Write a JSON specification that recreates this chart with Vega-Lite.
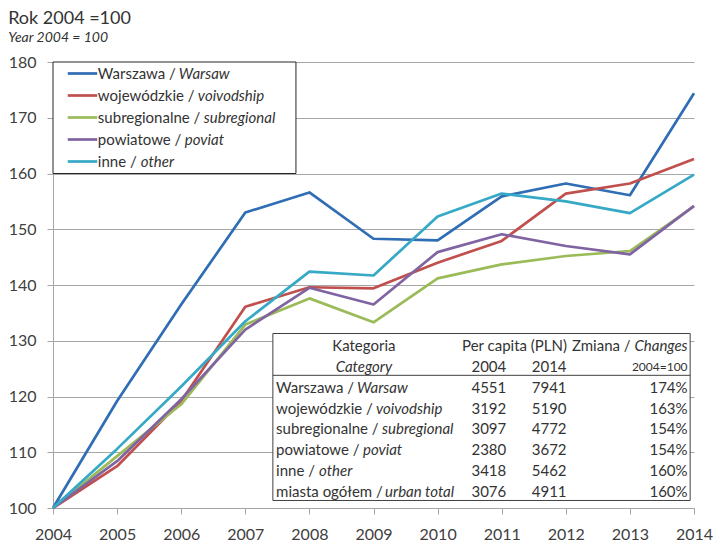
{
  "$schema": "https://vega.github.io/schema/vega-lite/v6.json",
  "width": 641,
  "height": 446,
  "autosize": {"type": "none"},
  "padding": {"left": 53, "top": 62, "right": 19, "bottom": 37},
  "background": "white",
  "title": {
    "text": "Rok 2004 =100",
    "subtitle": "Year 2004 = 100",
    "anchor": "start",
    "frame": "bounds",
    "font": "Lato",
    "fontSize": 18,
    "fontWeight": "normal",
    "color": "#333333",
    "subtitleFont": "Lato",
    "subtitleFontSize": 14,
    "subtitleFontStyle": "italic",
    "subtitleColor": "#333333",
    "subtitlePadding": 3,
    "offset": 9
  },
  "config": {
    "font": "Lato",
    "view": {"stroke": null},
    "scale": {"zero": false},
    "axis": {"labelFont": "Lato", "labelColor": "#404040", "labelFontSize": 16}
  },
  "datasets": {
    "series": [
      {"year": 2004, "series": "Warszawa", "value": 100},
      {"year": 2005, "series": "Warszawa", "value": 119.2},
      {"year": 2006, "series": "Warszawa", "value": 136.5},
      {"year": 2007, "series": "Warszawa", "value": 153.0},
      {"year": 2008, "series": "Warszawa", "value": 156.6},
      {"year": 2009, "series": "Warszawa", "value": 148.3},
      {"year": 2010, "series": "Warszawa", "value": 148.0},
      {"year": 2011, "series": "Warszawa", "value": 155.9},
      {"year": 2012, "series": "Warszawa", "value": 158.2},
      {"year": 2013, "series": "Warszawa", "value": 156.1},
      {"year": 2014, "series": "Warszawa", "value": 174.4},
      {"year": 2004, "series": "wojewódzkie", "value": 100},
      {"year": 2005, "series": "wojewódzkie", "value": 107.5},
      {"year": 2006, "series": "wojewódzkie", "value": 119.2},
      {"year": 2007, "series": "wojewódzkie", "value": 136.1},
      {"year": 2008, "series": "wojewódzkie", "value": 139.6},
      {"year": 2009, "series": "wojewódzkie", "value": 139.4},
      {"year": 2010, "series": "wojewódzkie", "value": 144.0},
      {"year": 2011, "series": "wojewódzkie", "value": 147.9},
      {"year": 2012, "series": "wojewódzkie", "value": 156.4},
      {"year": 2013, "series": "wojewódzkie", "value": 158.2},
      {"year": 2014, "series": "wojewódzkie", "value": 162.6},
      {"year": 2004, "series": "subregionalne", "value": 100},
      {"year": 2005, "series": "subregionalne", "value": 109.3},
      {"year": 2006, "series": "subregionalne", "value": 118.6},
      {"year": 2007, "series": "subregionalne", "value": 132.9},
      {"year": 2008, "series": "subregionalne", "value": 137.6},
      {"year": 2009, "series": "subregionalne", "value": 133.3},
      {"year": 2010, "series": "subregionalne", "value": 141.2},
      {"year": 2011, "series": "subregionalne", "value": 143.7},
      {"year": 2012, "series": "subregionalne", "value": 145.2},
      {"year": 2013, "series": "subregionalne", "value": 146.1},
      {"year": 2014, "series": "subregionalne", "value": 154.1},
      {"year": 2004, "series": "powiatowe", "value": 100},
      {"year": 2005, "series": "powiatowe", "value": 108.4},
      {"year": 2006, "series": "powiatowe", "value": 119.5},
      {"year": 2007, "series": "powiatowe", "value": 132.0},
      {"year": 2008, "series": "powiatowe", "value": 139.5},
      {"year": 2009, "series": "powiatowe", "value": 136.5},
      {"year": 2010, "series": "powiatowe", "value": 145.9},
      {"year": 2011, "series": "powiatowe", "value": 149.1},
      {"year": 2012, "series": "powiatowe", "value": 147.0},
      {"year": 2013, "series": "powiatowe", "value": 145.5},
      {"year": 2014, "series": "powiatowe", "value": 154.2},
      {"year": 2004, "series": "inne", "value": 100},
      {"year": 2005, "series": "inne", "value": 110.6},
      {"year": 2006, "series": "inne", "value": 121.8},
      {"year": 2007, "series": "inne", "value": 133.5},
      {"year": 2008, "series": "inne", "value": 142.4},
      {"year": 2009, "series": "inne", "value": 141.7},
      {"year": 2010, "series": "inne", "value": 152.3},
      {"year": 2011, "series": "inne", "value": 156.4},
      {"year": 2012, "series": "inne", "value": 155.0},
      {"year": 2013, "series": "inne", "value": 152.9},
      {"year": 2014, "series": "inne", "value": 159.8}
    ],
    "legendItems": [
      {"series": "Warszawa", "pl": "Warszawa /", "en": "Warsaw"},
      {"series": "wojewódzkie", "pl": "wojewódzkie /", "en": "voivodship"},
      {"series": "subregionalne", "pl": "subregionalne /", "en": "subregional"},
      {"series": "powiatowe", "pl": "powiatowe /", "en": "poviat"},
      {"series": "inne", "pl": "inne /", "en": "other"}
    ],
    "table": [
      {"pl": "Warszawa /", "en": "Warsaw", "v2004": 4551, "v2014": 7941, "chg": 1.74},
      {"pl": "wojewódzkie /", "en": "voivodship", "v2004": 3192, "v2014": 5190, "chg": 1.63},
      {"pl": "subregionalne /", "en": "subregional", "v2004": 3097, "v2014": 4772, "chg": 1.54},
      {"pl": "powiatowe /", "en": "poviat", "v2004": 2380, "v2014": 3672, "chg": 1.54},
      {"pl": "inne /", "en": "other", "v2004": 3418, "v2014": 5462, "chg": 1.60},
      {"pl": "miasta ogółem /", "en": "urban total", "v2004": 3076, "v2014": 4911, "chg": 1.60}
    ]
  },
  "layer": [
    {
      "data": {"name": "series"},
      "layer": [
        {
          "mark": {"type": "line", "strokeWidth": 2.7, "strokeJoin": "round"},
          "encoding": {
            "x": {
              "field": "year", "type": "quantitative",
              "scale": {"domain": [2004, 2014], "nice": false, "zero": false},
              "axis": {"values": [2004, 2005, 2006, 2007, 2008, 2009, 2010, 2011, 2012, 2013, 2014], "format": "d", "title": null, "grid": false, "tickSize": 6, "tickColor": "#a6a6a6", "domainColor": "#a6a6a6", "labelPadding": 12, "labelFontSize": 16, "labelFlush": false}
            },
            "y": {
              "field": "value", "type": "quantitative",
              "scale": {"domain": [100, 180], "nice": false, "zero": false},
              "axis": {"values": [100, 110, 120, 130, 140, 150, 160, 170, 180], "title": null, "grid": true, "gridColor": "#a6a6a6", "tickSize": 6, "tickColor": "#a6a6a6", "domainColor": "#a6a6a6", "labelPadding": 11, "labelFontSize": 16}
            },
            "color": {
              "field": "series", "type": "nominal",
              "scale": {"domain": ["Warszawa", "wojewódzkie", "subregionalne", "powiatowe", "inne"], "range": ["#2f6db4", "#c0504d", "#9bbb59", "#8064a2", "#35a9c6"]},
              "legend": null
            }
          }
        },
        {
          "data": {"values": [{}]},
          "mark": {"type": "rect", "fill": "white", "stroke": "#262626", "strokeWidth": 1},
          "encoding": {"x": {"datum": 2004}, "x2": {"datum": 2007.79}, "y": {"datum": 180}, "y2": {"datum": 160}}
        },
        {
          "data": {"values": [{}]},
          "mark": {"type": "rect", "fill": "white", "stroke": "#404040", "strokeWidth": 1},
          "encoding": {"x": {"datum": 2007.43}, "x2": {"datum": 2013.94}, "y": {"datum": 131.3}, "y2": {"datum": 101.35}}
        },
        {
          "data": {"values": [{}]},
          "mark": {"type": "rule", "stroke": "#404040", "strokeWidth": 1},
          "encoding": {"x": {"datum": 2007.43}, "x2": {"datum": 2013.94}, "y": {"datum": 123.8}}
        }
      ]
    },
    {
      "data": {"name": "table"},
      "layer": [
        {
          "data": {"values": [{}]},
          "mark": {"type": "text", "align": "center", "baseline": "middle", "fontSize": 15, "color": "#333333", "text": "Kategoria"},
          "encoding": {"x": {"datum": 2008.85}, "y": {"datum": "h1", "type": "nominal", "scale": {"type": "point", "domain": ["h1", "h2", "Warszawa /", "wojewódzkie /", "subregionalne /", "powiatowe /", "inne /", "miasta ogółem /"], "range": [284, 430], "padding": 0}, "axis": null}}
        },
        {
          "data": {"values": [{}]},
          "mark": {"type": "text", "align": "center", "baseline": "middle", "fontSize": 15, "color": "#333333", "text": "Per capita (PLN)"},
          "encoding": {"x": {"datum": 2011.20}, "y": {"datum": "h1", "type": "nominal", "scale": {"type": "point", "domain": ["h1", "h2", "Warszawa /", "wojewódzkie /", "subregionalne /", "powiatowe /", "inne /", "miasta ogółem /"], "range": [284, 430], "padding": 0}, "axis": null}}
        },
        {
          "data": {"values": [{}]},
          "mark": {"type": "text", "align": "right", "baseline": "middle", "fontSize": 15, "color": "#333333", "text": "Zmiana /", "dx": -57},
          "encoding": {"x": {"datum": 2013.9}, "y": {"datum": "h1", "type": "nominal", "scale": {"type": "point", "domain": ["h1", "h2", "Warszawa /", "wojewódzkie /", "subregionalne /", "powiatowe /", "inne /", "miasta ogółem /"], "range": [284, 430], "padding": 0}, "axis": null}}
        },
        {
          "data": {"values": [{}]},
          "mark": {"type": "text", "align": "right", "baseline": "middle", "fontSize": 15, "fontStyle": "italic", "color": "#333333", "text": "Changes"},
          "encoding": {"x": {"datum": 2013.9}, "y": {"datum": "h1", "type": "nominal", "scale": {"type": "point", "domain": ["h1", "h2", "Warszawa /", "wojewódzkie /", "subregionalne /", "powiatowe /", "inne /", "miasta ogółem /"], "range": [284, 430], "padding": 0}, "axis": null}}
        },
        {
          "data": {"values": [{}]},
          "mark": {"type": "text", "align": "center", "baseline": "middle", "fontSize": 15, "fontStyle": "italic", "color": "#333333", "text": "Category"},
          "encoding": {"x": {"datum": 2008.85}, "y": {"datum": "h2", "type": "nominal", "scale": {"type": "point", "domain": ["h1", "h2", "Warszawa /", "wojewódzkie /", "subregionalne /", "powiatowe /", "inne /", "miasta ogółem /"], "range": [284, 430], "padding": 0}, "axis": null}}
        },
        {
          "data": {"values": [{}]},
          "mark": {"type": "text", "align": "center", "baseline": "middle", "fontSize": 15, "color": "#333333", "text": "2004"},
          "encoding": {"x": {"datum": 2010.80}, "y": {"datum": "h2", "type": "nominal", "scale": {"type": "point", "domain": ["h1", "h2", "Warszawa /", "wojewódzkie /", "subregionalne /", "powiatowe /", "inne /", "miasta ogółem /"], "range": [284, 430], "padding": 0}, "axis": null}}
        },
        {
          "data": {"values": [{}]},
          "mark": {"type": "text", "align": "center", "baseline": "middle", "fontSize": 15, "color": "#333333", "text": "2014"},
          "encoding": {"x": {"datum": 2011.74}, "y": {"datum": "h2", "type": "nominal", "scale": {"type": "point", "domain": ["h1", "h2", "Warszawa /", "wojewódzkie /", "subregionalne /", "powiatowe /", "inne /", "miasta ogółem /"], "range": [284, 430], "padding": 0}, "axis": null}}
        },
        {
          "data": {"values": [{}]},
          "mark": {"type": "text", "align": "right", "baseline": "middle", "fontSize": 12, "color": "#333333", "text": "2004=100"},
          "encoding": {"x": {"datum": 2013.9}, "y": {"datum": "h2", "type": "nominal", "scale": {"type": "point", "domain": ["h1", "h2", "Warszawa /", "wojewódzkie /", "subregionalne /", "powiatowe /", "inne /", "miasta ogółem /"], "range": [284, 430], "padding": 0}, "axis": null}}
        },
        {
          "mark": {"type": "text", "align": "left", "baseline": "middle", "fontSize": 15, "color": "#333333"},
          "encoding": {"x": {"datum": 2007.48}, "y": {"field": "pl", "type": "nominal", "scale": {"type": "point", "domain": ["h1", "h2", "Warszawa /", "wojewódzkie /", "subregionalne /", "powiatowe /", "inne /", "miasta ogółem /"], "range": [284, 430], "padding": 0}, "axis": null}, "text": {"field": "pl"}}
        },
        {
          "transform": [{"filter": "datum.pl == 'Warszawa /'"}],
          "mark": {"type": "text", "align": "left", "baseline": "middle", "fontSize": 15, "fontStyle": "italic", "color": "#333333", "dx": 81},
          "encoding": {"x": {"datum": 2007.48}, "y": {"field": "pl", "type": "nominal", "scale": {"type": "point", "domain": ["h1", "h2", "Warszawa /", "wojewódzkie /", "subregionalne /", "powiatowe /", "inne /", "miasta ogółem /"], "range": [284, 430], "padding": 0}, "axis": null}, "text": {"field": "en"}}
        },
        {
          "transform": [{"filter": "datum.pl == 'wojewódzkie /'"}],
          "mark": {"type": "text", "align": "left", "baseline": "middle", "fontSize": 15, "fontStyle": "italic", "color": "#333333", "dx": 100},
          "encoding": {"x": {"datum": 2007.48}, "y": {"field": "pl", "type": "nominal", "scale": {"type": "point", "domain": ["h1", "h2", "Warszawa /", "wojewódzkie /", "subregionalne /", "powiatowe /", "inne /", "miasta ogółem /"], "range": [284, 430], "padding": 0}, "axis": null}, "text": {"field": "en"}}
        },
        {
          "transform": [{"filter": "datum.pl == 'subregionalne /'"}],
          "mark": {"type": "text", "align": "left", "baseline": "middle", "fontSize": 15, "fontStyle": "italic", "color": "#333333", "dx": 106},
          "encoding": {"x": {"datum": 2007.48}, "y": {"field": "pl", "type": "nominal", "scale": {"type": "point", "domain": ["h1", "h2", "Warszawa /", "wojewódzkie /", "subregionalne /", "powiatowe /", "inne /", "miasta ogółem /"], "range": [284, 430], "padding": 0}, "axis": null}, "text": {"field": "en"}}
        },
        {
          "transform": [{"filter": "datum.pl == 'powiatowe /'"}],
          "mark": {"type": "text", "align": "left", "baseline": "middle", "fontSize": 15, "fontStyle": "italic", "color": "#333333", "dx": 87},
          "encoding": {"x": {"datum": 2007.48}, "y": {"field": "pl", "type": "nominal", "scale": {"type": "point", "domain": ["h1", "h2", "Warszawa /", "wojewódzkie /", "subregionalne /", "powiatowe /", "inne /", "miasta ogółem /"], "range": [284, 430], "padding": 0}, "axis": null}, "text": {"field": "en"}}
        },
        {
          "transform": [{"filter": "datum.pl == 'inne /'"}],
          "mark": {"type": "text", "align": "left", "baseline": "middle", "fontSize": 15, "fontStyle": "italic", "color": "#333333", "dx": 43},
          "encoding": {"x": {"datum": 2007.48}, "y": {"field": "pl", "type": "nominal", "scale": {"type": "point", "domain": ["h1", "h2", "Warszawa /", "wojewódzkie /", "subregionalne /", "powiatowe /", "inne /", "miasta ogółem /"], "range": [284, 430], "padding": 0}, "axis": null}, "text": {"field": "en"}}
        },
        {
          "transform": [{"filter": "datum.pl == 'miasta ogółem /'"}],
          "mark": {"type": "text", "align": "left", "baseline": "middle", "fontSize": 15, "fontStyle": "italic", "color": "#333333", "dx": 109},
          "encoding": {"x": {"datum": 2007.48}, "y": {"field": "pl", "type": "nominal", "scale": {"type": "point", "domain": ["h1", "h2", "Warszawa /", "wojewódzkie /", "subregionalne /", "powiatowe /", "inne /", "miasta ogółem /"], "range": [284, 430], "padding": 0}, "axis": null}, "text": {"field": "en"}}
        },
        {
          "mark": {"type": "text", "align": "center", "baseline": "middle", "fontSize": 15, "color": "#333333"},
          "encoding": {"x": {"datum": 2010.80}, "y": {"field": "pl", "type": "nominal", "scale": {"type": "point", "domain": ["h1", "h2", "Warszawa /", "wojewódzkie /", "subregionalne /", "powiatowe /", "inne /", "miasta ogółem /"], "range": [284, 430], "padding": 0}, "axis": null}, "text": {"field": "v2004", "type": "quantitative", "format": "d"}}
        },
        {
          "mark": {"type": "text", "align": "center", "baseline": "middle", "fontSize": 15, "color": "#333333"},
          "encoding": {"x": {"datum": 2011.74}, "y": {"field": "pl", "type": "nominal", "scale": {"type": "point", "domain": ["h1", "h2", "Warszawa /", "wojewódzkie /", "subregionalne /", "powiatowe /", "inne /", "miasta ogółem /"], "range": [284, 430], "padding": 0}, "axis": null}, "text": {"field": "v2014", "type": "quantitative", "format": "d"}}
        },
        {
          "mark": {"type": "text", "align": "right", "baseline": "middle", "fontSize": 15, "color": "#333333"},
          "encoding": {"x": {"datum": 2013.9}, "y": {"field": "pl", "type": "nominal", "scale": {"type": "point", "domain": ["h1", "h2", "Warszawa /", "wojewódzkie /", "subregionalne /", "powiatowe /", "inne /", "miasta ogółem /"], "range": [284, 430], "padding": 0}, "axis": null}, "text": {"field": "chg", "type": "quantitative", "format": ".0%"}}
        }
      ]
    },
    {
      "data": {"name": "legendItems"},
      "layer": [
        {
          "mark": {"type": "rule", "strokeWidth": 2.7},
          "encoding": {
            "x": {"datum": 2004.23}, "x2": {"datum": 2004.69},
            "y": {"field": "series", "type": "nominal", "scale": {"type": "point", "domain": ["Warszawa", "wojewódzkie", "subregionalne", "powiatowe", "inne"], "range": [11.5, 99.5], "padding": 0}, "axis": null},
            "color": {"field": "series", "type": "nominal", "legend": null}
          }
        },
        {
          "mark": {"type": "text", "align": "left", "baseline": "middle", "fontSize": 15, "color": "#333333"},
          "encoding": {
            "x": {"datum": 2004.70},
            "y": {"field": "series", "type": "nominal", "scale": {"type": "point", "domain": ["Warszawa", "wojewódzkie", "subregionalne", "powiatowe", "inne"], "range": [11.5, 99.5], "padding": 0}, "axis": null},
            "text": {"field": "pl"}
          }
        },
        {
          "transform": [{"filter": "datum.series == 'Warszawa'"}],
          "mark": {"type": "text", "align": "left", "baseline": "middle", "fontSize": 15, "fontStyle": "italic", "color": "#333333", "dx": 81},
          "encoding": {"x": {"datum": 2004.70}, "y": {"field": "series", "type": "nominal", "scale": {"type": "point", "domain": ["Warszawa", "wojewódzkie", "subregionalne", "powiatowe", "inne"], "range": [11.5, 99.5], "padding": 0}, "axis": null}, "text": {"field": "en"}}
        },
        {
          "transform": [{"filter": "datum.series == 'wojewódzkie'"}],
          "mark": {"type": "text", "align": "left", "baseline": "middle", "fontSize": 15, "fontStyle": "italic", "color": "#333333", "dx": 100},
          "encoding": {"x": {"datum": 2004.70}, "y": {"field": "series", "type": "nominal", "scale": {"type": "point", "domain": ["Warszawa", "wojewódzkie", "subregionalne", "powiatowe", "inne"], "range": [11.5, 99.5], "padding": 0}, "axis": null}, "text": {"field": "en"}}
        },
        {
          "transform": [{"filter": "datum.series == 'subregionalne'"}],
          "mark": {"type": "text", "align": "left", "baseline": "middle", "fontSize": 15, "fontStyle": "italic", "color": "#333333", "dx": 106},
          "encoding": {"x": {"datum": 2004.70}, "y": {"field": "series", "type": "nominal", "scale": {"type": "point", "domain": ["Warszawa", "wojewódzkie", "subregionalne", "powiatowe", "inne"], "range": [11.5, 99.5], "padding": 0}, "axis": null}, "text": {"field": "en"}}
        },
        {
          "transform": [{"filter": "datum.series == 'powiatowe'"}],
          "mark": {"type": "text", "align": "left", "baseline": "middle", "fontSize": 15, "fontStyle": "italic", "color": "#333333", "dx": 87},
          "encoding": {"x": {"datum": 2004.70}, "y": {"field": "series", "type": "nominal", "scale": {"type": "point", "domain": ["Warszawa", "wojewódzkie", "subregionalne", "powiatowe", "inne"], "range": [11.5, 99.5], "padding": 0}, "axis": null}, "text": {"field": "en"}}
        },
        {
          "transform": [{"filter": "datum.series == 'inne'"}],
          "mark": {"type": "text", "align": "left", "baseline": "middle", "fontSize": 15, "fontStyle": "italic", "color": "#333333", "dx": 43},
          "encoding": {"x": {"datum": 2004.70}, "y": {"field": "series", "type": "nominal", "scale": {"type": "point", "domain": ["Warszawa", "wojewódzkie", "subregionalne", "powiatowe", "inne"], "range": [11.5, 99.5], "padding": 0}, "axis": null}, "text": {"field": "en"}}
        }
      ]
    }
  ],
  "resolve": {"scale": {"y": "independent"}}
}
